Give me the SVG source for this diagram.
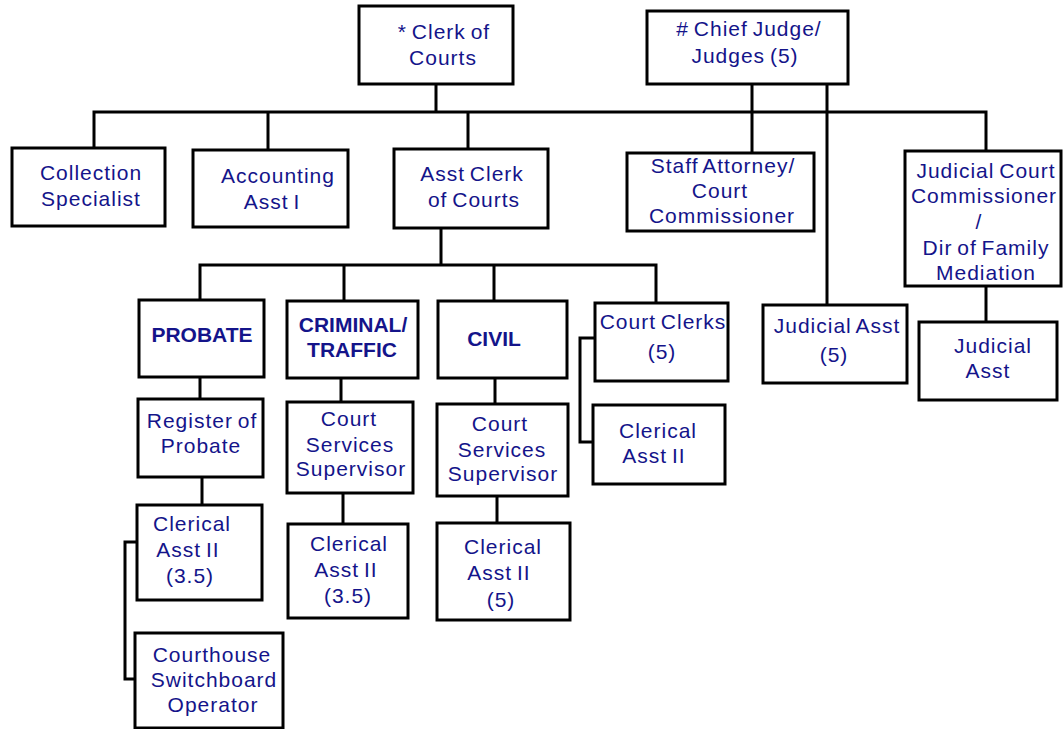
<svg xmlns="http://www.w3.org/2000/svg" width="1063" height="729" viewBox="0 0 1063 729">
<style>
rect{fill:#fff;stroke:#000;stroke-width:3}
text{font-family:"Liberation Sans",Arial,sans-serif;font-size:21px;fill:#14148a;text-anchor:middle;letter-spacing:1px;word-spacing:-2px}
text.b{font-weight:bold;letter-spacing:0;word-spacing:0}
#connectors path{fill:none;stroke:#000;stroke-width:3}
</style>
<rect x="0" y="0" width="1063" height="729" style="stroke:none"/>
<g id="connectors">
<path d="M436,84V112M94,148V112H986V151M268,112V150M468,112V149"/>
<path d="M752,84V153M827,84V305"/>
<path d="M441,228V265M200,300V265H656V303M344,265V301M494,265V301"/>
<path d="M200,377V399M202,477V505M137,542H125V679H135"/>
<path d="M341,378V402M343,493V524"/>
<path d="M495,378V404M497,496V523"/>
<path d="M595,338H580V442H593"/>
<path d="M986,286V322"/>
</g>
<g id="clerk"><rect x="359" y="6" width="154" height="78"/><text x="444" y="39">* Clerk of</text><text x="443" y="65">Courts</text></g>
<g id="chief"><rect x="647" y="11" width="201" height="73"/><text x="749" y="36"># Chief Judge/</text><text x="745" y="63">Judges (5)</text></g>
<g id="collection"><rect x="12" y="148" width="153" height="78"/><text x="91" y="180">Collection</text><text x="91" y="206">Specialist</text></g>
<g id="accounting"><rect x="193" y="150" width="155" height="77"/><text x="278" y="183">Accounting</text><text x="272" y="209">Asst I</text></g>
<g id="asstclerk"><rect x="394" y="149" width="154" height="79"/><text x="472" y="181">Asst Clerk</text><text x="474" y="207">of Courts</text></g>
<g id="staff"><rect x="627" y="153" width="187" height="78"/><text x="723" y="173">Staff Attorney/</text><text x="720" y="198">Court</text><text x="722" y="223">Commissioner</text></g>
<g id="jcc"><rect x="905" y="151" width="156" height="135"/><text x="986" y="178">Judicial Court</text><text x="984" y="203">Commissioner</text><text x="979" y="229">/</text><text x="986" y="255">Dir of Family</text><text x="986" y="280">Mediation</text></g>
<g id="probate"><rect x="139" y="300" width="125" height="77"/><text class="b" x="202" y="342">PROBATE</text></g>
<g id="criminal"><rect x="287" y="301" width="131" height="77"/><text class="b" x="353" y="332">CRIMINAL/</text><text class="b" x="352" y="357">TRAFFIC</text></g>
<g id="civil"><rect x="438" y="301" width="129" height="77"/><text class="b" x="494" y="346">CIVIL</text></g>
<g id="courtclerks"><rect x="595" y="303" width="133" height="78"/><text x="663" y="329">Court Clerks</text><text x="662" y="359">(5)</text></g>
<g id="clerical-cc"><rect x="593" y="405" width="132" height="79"/><text x="658" y="438">Clerical</text><text x="654" y="463">Asst II</text></g>
<g id="judasst5"><rect x="763" y="305" width="144" height="78"/><text x="837" y="333">Judicial Asst</text><text x="834" y="362">(5)</text></g>
<g id="judasst"><rect x="919" y="322" width="138" height="78"/><text x="993" y="353">Judicial</text><text x="988" y="378">Asst</text></g>
<g id="register"><rect x="138" y="399" width="125" height="78"/><text x="202" y="428">Register of</text><text x="201" y="453">Probate</text></g>
<g id="css-criminal"><rect x="287" y="402" width="126" height="91"/><text x="349" y="426">Court</text><text x="350" y="452">Services</text><text x="351" y="476">Supervisor</text></g>
<g id="css-civil"><rect x="437" y="404" width="131" height="92"/><text x="500" y="431">Court</text><text x="502" y="457">Services</text><text x="503" y="481">Supervisor</text></g>
<g id="clerical-probate"><rect x="137" y="505" width="125" height="95"/><text x="192" y="531">Clerical</text><text x="188" y="557">Asst II</text><text x="190" y="583">(3.5)</text></g>
<g id="switchboard"><rect x="135" y="633" width="148" height="95"/><text x="212" y="662">Courthouse</text><text x="214" y="687">Switchboard</text><text x="213" y="712">Operator</text></g>
<g id="clerical-criminal"><rect x="288" y="524" width="120" height="94"/><text x="349" y="551">Clerical</text><text x="346" y="577">Asst II</text><text x="348" y="603">(3.5)</text></g>
<g id="clerical-civil"><rect x="437" y="523" width="133" height="97"/><text x="503" y="554">Clerical</text><text x="499" y="580">Asst II</text><text x="501" y="607">(5)</text></g>
</svg>
